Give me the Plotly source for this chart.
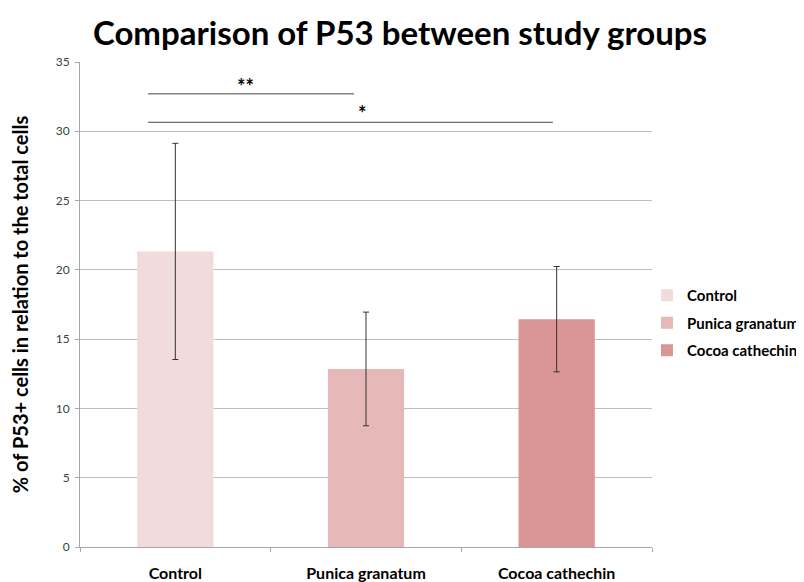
import plotly.graph_objects as go

categories = ["Control", "Punica granatum", "Cocoa cathechin"]
means = [21.33, 12.85, 16.44]
errors = [7.8, 4.1, 3.8]
colors = ["#F2DCDB", "#E6B9B8", "#D99694"]
y_ticks = [0, 5, 10, 15, 20, 25, 30, 35]

# significance brackets
sig_start = [-0.143, -0.143]
sig_end = [0.937, 1.98]
sig_y = [32.7, 30.65]
sig_labels = ["**", "*"]
sig_label_x = [0.366, 0.98]
sig_label_y = [33.3, 31.3]

FONT = "Lato"
OFF = 8  # page body offset

fig = go.Figure()
for i, cat in enumerate(categories):
    fig.add_trace(go.Bar(
        x=[cat], y=[means[i]], name=cat,
        marker=dict(color=colors[i], line=dict(width=0)),
        width=0.4,
        legendgroup=cat,
        error_y=dict(type="data", array=[errors[i]], color="#333333", thickness=1, width=3),
    ))

for i in range(len(sig_y)):
    fig.add_shape(type="line", xref="x", yref="y",
                  x0=sig_start[i], x1=sig_end[i], y0=sig_y[i], y1=sig_y[i],
                  line=dict(color="#444444", width=1))
    fig.add_annotation(x=sig_label_x[i], y=sig_label_y[i], xref="x", yref="y",
                       text="<b>" + sig_labels[i] + "</b>", showarrow=False,
                       font=dict(family=FONT, size=20, color="#000000"))

W, H = 804, 582
fig.update_layout(
    width=W, height=H,
    margin=dict(l=80 - OFF, r=W - (652 - OFF), t=62 - OFF, b=H - (546.7 - OFF), autoexpand=False),
    paper_bgcolor="white", plot_bgcolor="white",
    barmode="overlay",
    title=dict(text="<b>Comparison of P53 between study groups</b>",
               x=(400 - OFF) / W, xanchor="center", xref="container",
               y=1 - (33 - OFF) / H, yanchor="middle", yref="container",
               font=dict(family=FONT, size=33, color="#000000")),
    legend=dict(xref="container", yref="container",
                x=(647 - OFF) / W, y=1 - (323 - OFF) / H, xanchor="left", yanchor="middle",
                font=dict(family=FONT, size=15, color="#000000", weight="bold"),
                tracegroupgap=5, itemwidth=30, bgcolor="rgba(0,0,0,0)"),
    showlegend=True,
)
fig.update_xaxes(
    type="category", categoryorder="array", categoryarray=categories,
    range=[-0.5, 2.5], automargin=False,
    showline=True, linecolor="#A6A6A6", linewidth=1,
    ticks="outside", tickson="boundaries", ticklen=4, tickcolor="#A6A6A6",
    tickfont=dict(family=FONT, size=16, color="#000000"),
    ticklabelstandoff=12,
    ticktext=["<b>" + c + "</b>" for c in categories], tickvals=categories,
    showgrid=False,
)
fig.update_yaxes(
    range=[0, 35], tickvals=y_ticks, automargin=False,
    showline=True, linecolor="#A6A6A6", linewidth=1,
    ticks="outside", ticklen=4, tickcolor="#A6A6A6",
    tickfont=dict(family=FONT, size=12, color="#404040"),
    ticklabelstandoff=3,
    showgrid=True, gridcolor="#BFBFBF", gridwidth=1,
    zeroline=False,
    title=dict(text="<b>% of P53+ cells in relation to the total cells</b>",
               font=dict(family=FONT, size=20, color="#000000"), standoff=22),
)

fig.write_html("out.html")
